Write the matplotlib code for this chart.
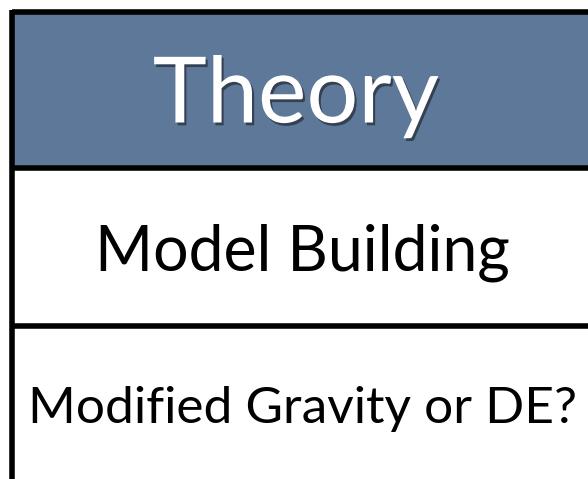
import matplotlib.pyplot as plt
import matplotlib.patheffects as pe
from matplotlib.patches import Rectangle

# Conteúdo da tabela
row_labels = ['Theory', 'Model Building', 'Modified Gravity or DE?']
row_tops = [12, 168, 326]
row_bottoms = [168, 326, 479]
font_sizes = [66, 45, 37]

W, H = 588, 479
fig = plt.figure(figsize=(W / 100, H / 100), dpi=100)
ax = fig.add_axes([0, 0, 1, 1])
ax.set_xlim(0, W)
ax.set_ylim(H, 0)
ax.axis('off')

# Cabeçalho azul
ax.add_patch(Rectangle((12, row_tops[0]), W - 12, row_bottoms[0] - row_tops[0],
                       facecolor='#5d7898', edgecolor='none', zorder=1))

# Linhas da grade
ax.plot([12, W], [12, 12], color='black', lw=4, solid_capstyle='butt', zorder=3)
ax.plot([12, 12], [10, H], color='black', lw=4, solid_capstyle='butt', zorder=3)
for y in row_bottoms[:-1]:
    ax.plot([12, W], [y, y], color='black', lw=4, solid_capstyle='butt', zorder=3)

for i, label in enumerate(row_labels):
    yc = (row_tops[i] + row_bottoms[i]) / 2
    if i == 0:
        ax.text(296, yc + 7, label, fontsize=font_sizes[i], family='Lato', color='white',
                ha='center', va='center', zorder=4,
                path_effects=[pe.withSimplePatchShadow(offset=(1.5, -2), shadow_rgbFace='black', alpha=0.45)])
    else:
        ax.text(302, yc + 6, label, fontsize=font_sizes[i], family='Lato', color='black',
                ha='center', va='center', zorder=4)

plt.savefig('out.png', dpi=100)
